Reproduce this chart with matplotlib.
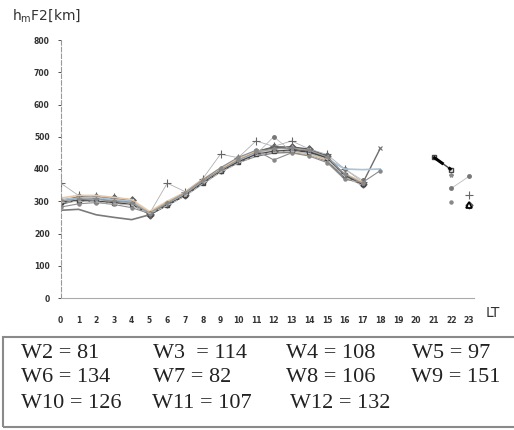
import numpy as np
import matplotlib
matplotlib.use("Agg")
import matplotlib.pyplot as plt
from matplotlib.patches import Rectangle

N = np.nan
hours = list(range(24))

W2 = [302, 313, 313, 310, 303, 258, 290, 320, 362, 398, 428, 453, 468, 468, 461, 440, 378, 352, N, N, N, N, N, 288]
W3 = [272, 275, 258, 250, 243, 258, 288, 318, 355, 392, 420, 440, 450, 452, 445, 425, 372, 355, N, N, N, N, N, N]
W4 = [356, 318, 315, 312, 305, 262, 356, 330, 370, 446, 435, 487, 470, 487, 462, 445, 400, 360, N, N, N, N, N, 319]
W5 = [295, 300, 305, 300, 295, 262, 292, 325, 365, 400, 425, 445, 500, 455, 450, 430, 400, 365, N, N, N, N, 340, 377]
W6 = [290, 305, 308, 300, 298, 262, 292, 322, 360, 395, 430, 455, 465, 462, 455, 435, 380, 355, 464, N, N, N, N, N]
W7 = [305, 310, 312, 305, 300, 265, 295, 320, 358, 392, 425, 450, 458, 455, 450, 432, 400, 398, 400, N, N, N, N, N]
W8 = [310, 318, 318, 312, 305, 268, 300, 328, 368, 402, 432, 455, 455, 455, 445, 428, 385, 360, N, N, N, N, N, N]
W9 = [298, 302, 300, 296, 290, 260, 288, 318, 357, 393, 422, 445, 455, 458, 452, 435, 382, 352, N, N, N, 437, 398, N]
W10 = [282, 292, 296, 290, 280, 262, 294, 326, 366, 404, 436, 458, 428, 450, 440, 420, 368, 358, 395, N, N, N, 297, N]
W11 = [300, 308, 306, 302, 296, 264, 296, 324, 362, 396, 428, 452, 462, 466, 458, 438, 384, 356, N, N, N, N, 381, N]
W12 = [296, 300, 298, 292, 288, 262, 286, 316, 354, 390, 418, 442, 452, 456, 448, 430, 376, 348, N, N, N, N, N, N]

labels = ["W2 = 81", "W3  = 114", "W4 = 108", "W5 = 97",
          "W6 = 134", "W7 = 82", "W8 = 106", "W9 = 151",
          "W10 = 126", "W11 = 107", "W12 = 132"]

fig = plt.figure(figsize=(5.14, 4.30), dpi=100)
ax = fig.add_axes([60.75 / 514, 132 / 430, 23.3 * 17.75 / 514, 258 / 430])

x = np.array(hours)
styles = [
    (W2, dict(color="#555555", lw=1.2, marker="D", ms=3.5, mfc="none", mew=1.0)),
    (W3, dict(color="#7a7a7a", lw=1.2)),
    (W4, dict(color="#b0b0b0", lw=0.6, marker="+", ms=6, mec="#666666", mew=0.8)),
    (W5, dict(color="#bbbbbb", lw=0.6, marker="o", ms=2.5, mfc="#777777", mec="#777777")),
    (W6, dict(color="#6e6e6e", lw=1.0, marker="x", ms=3, mew=0.8)),
    (W7, dict(color="#a9c3d8", lw=1.2)),
    (W8, dict(color="#e6c9a8", lw=1.2)),
    (W9, dict(color="#444444", lw=1.0, marker="s", ms=2.5, mfc="none")),
    (W10, dict(color="#8c8c8c", lw=0.8, marker="o", ms=2.2, mfc="#888888", mec="#888888")),
    (W11, dict(color="#9e9e9e", lw=0.8, marker="*", ms=3, mec="#888888")),
    (W12, dict(color="#bbbbbb", lw=0.8, ls="--")),
]
for data, st in styles:
    ax.plot(x, np.array(data, dtype=float), **st)

# dashed black tail for W9
ax.plot(x[21:23], np.array(W9[21:23], dtype=float), color="black", lw=2.2, ls=(0, (4, 2)))
ax.plot([23], [W2[23]], marker="^", ms=5, mfc="none", mec="black", mew=1.2, ls="none")

ax.set_xlim(0, 23.3)
ax.set_ylim(0, 800)
ax.set_xticks(hours)
ax.set_yticks(range(0, 801, 100))
ax.tick_params(axis="both", labelsize=5.5, colors="#333333", length=2, width=0.6)
for lab in ax.get_xticklabels() + ax.get_yticklabels():
    lab.set_fontweight("bold")
ax.tick_params(axis="x", length=0, pad=13)
ax.tick_params(axis="y", pad=6)
for s in ["top", "right"]:
    ax.spines[s].set_visible(False)
ax.spines["left"].set_linestyle((0, (4, 2)))
ax.spines["left"].set_color("#999999")
ax.spines["left"].set_linewidth(0.8)
ax.spines["bottom"].set_color("#aaaaaa")
ax.spines["bottom"].set_linewidth(0.8)
ax.spines["left"].set_bounds(0, 800)

fig.text(12 / 514, 1 - 16 / 430, r"h$_\mathrm{m}$F2[km]", fontsize=10, color="#333333",
         ha="left", va="center")
fig.text(486 / 514, 1 - 313 / 430, "LT", fontsize=10, color="#333333", ha="left", va="center")

# box with W values
fig.patches.append(Rectangle((3 / 514, 3 / 430), 525 / 514, 90 / 430, transform=fig.transFigure,
                             fill=False, edgecolor="#8a8a8a", lw=1.5))
xs = [[21, 153, 286, 412], [21, 153, 286, 411], [21, 152, 290]]
ys = [354, 378, 403]
k = 0
for row, yy in zip(xs, ys):
    for xx in row:
        fig.text(xx / 514, 1 - yy / 430, labels[k], fontsize=16, family="Liberation Serif",
                 color="#222222", ha="left", va="center")
        k += 1

fig.savefig("out.png", dpi=100)
